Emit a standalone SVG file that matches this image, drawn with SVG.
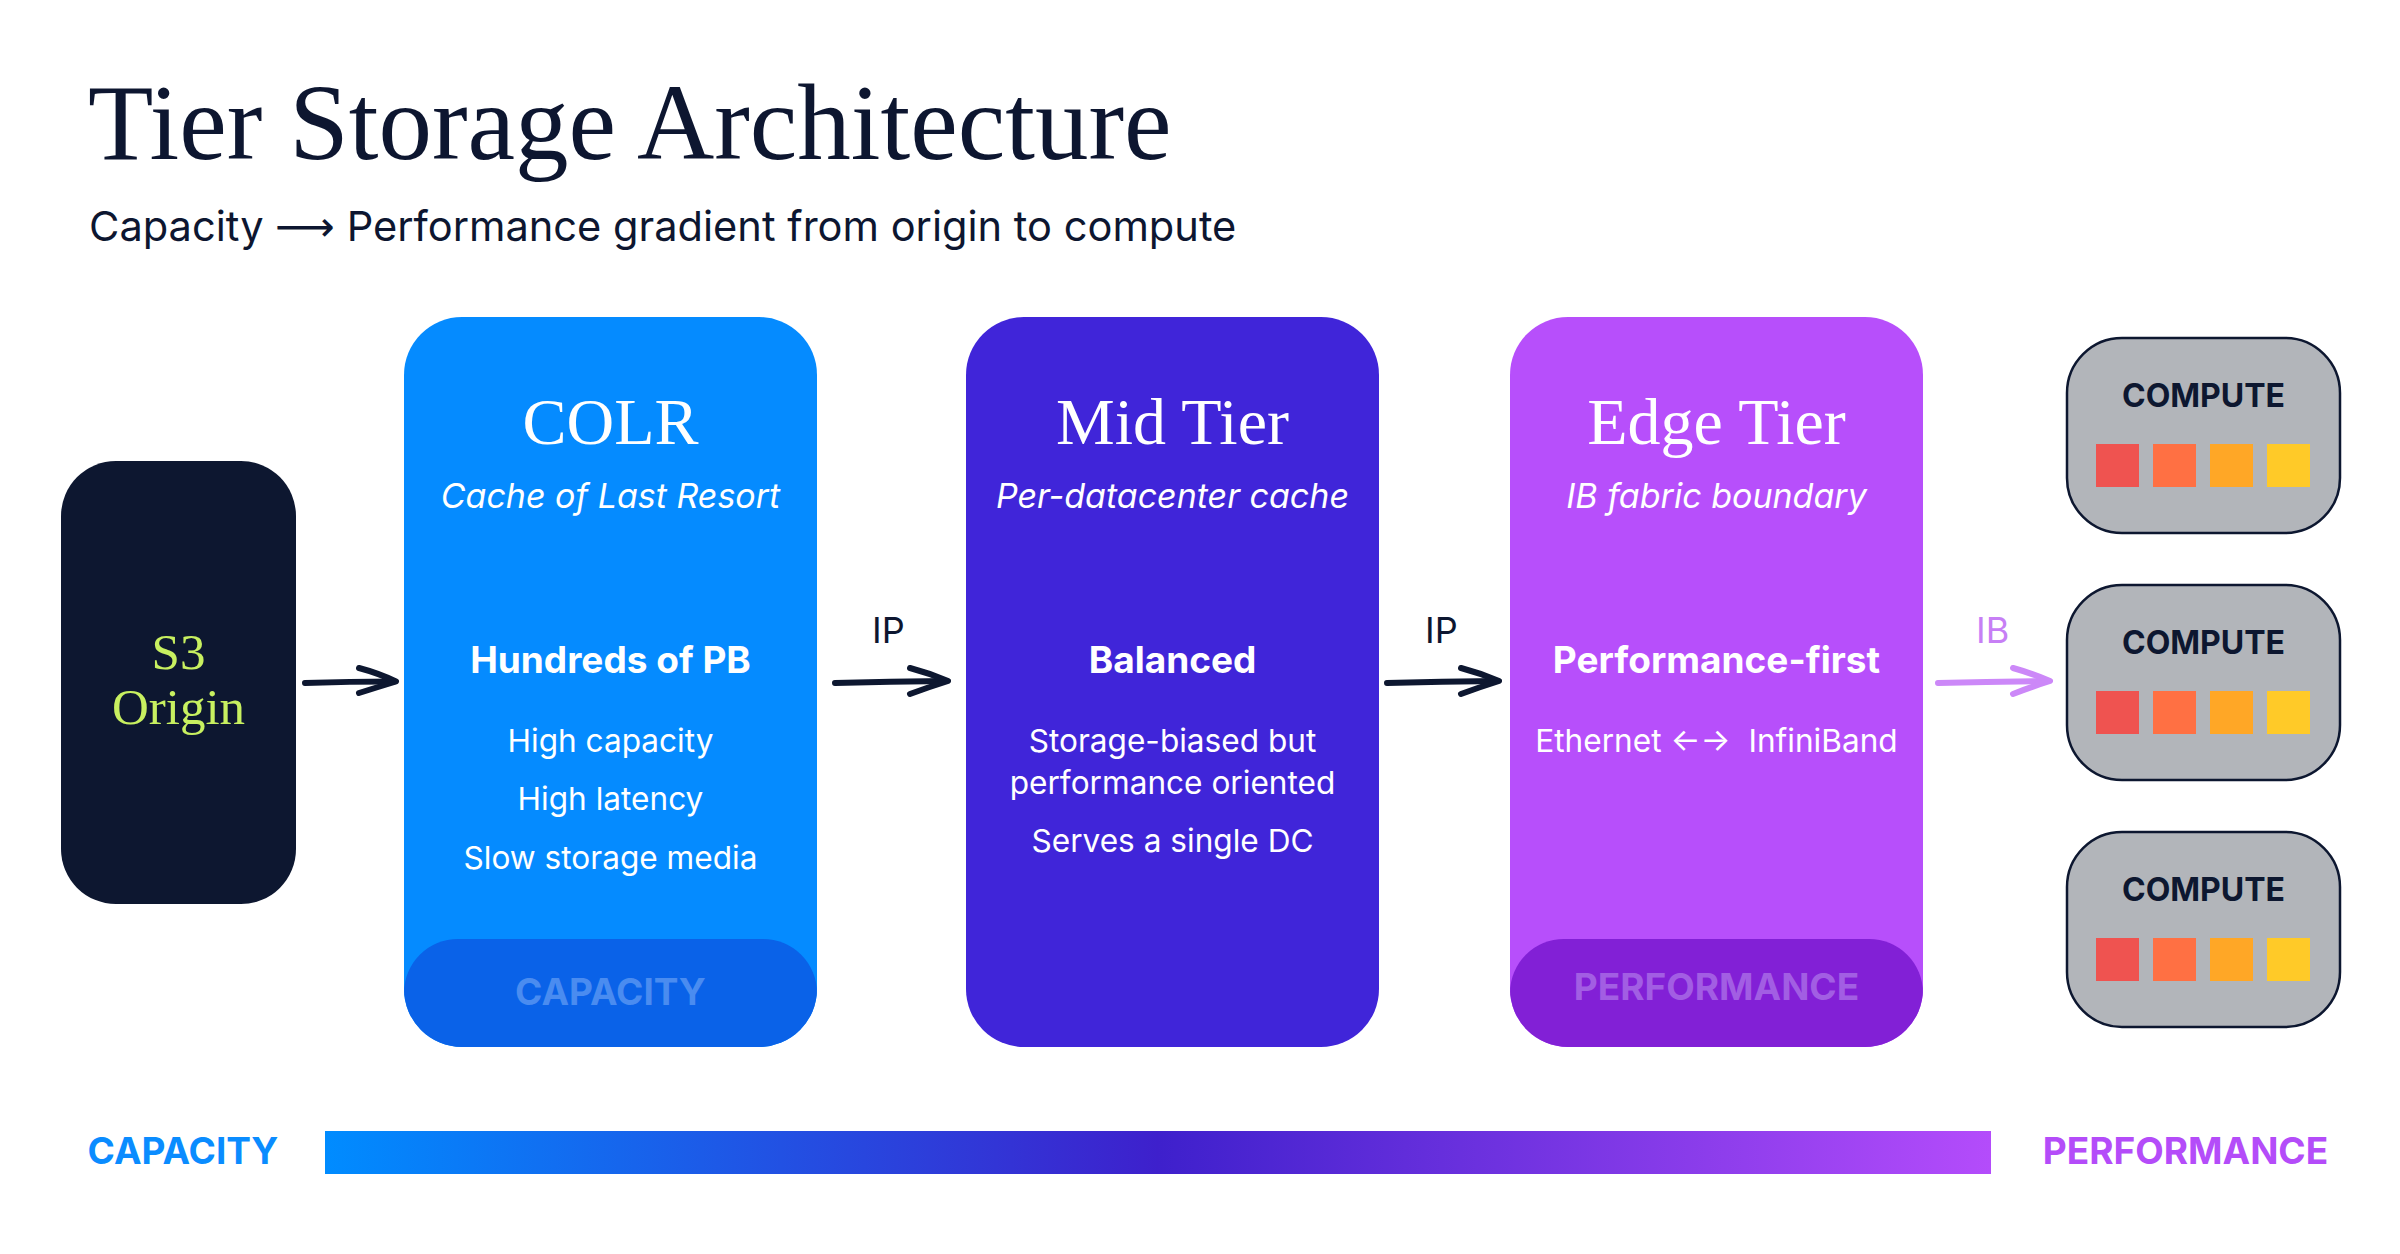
<svg xmlns="http://www.w3.org/2000/svg" width="2400" height="1254" viewBox="0 0 2400 1254">
<defs>
<style>
.serif{font-family:"Liberation Serif","Times New Roman",serif;}
.sans{font-family:Inter,"Liberation Sans",Arial,sans-serif;}
.title{font-size:107px;fill:#0d1630;}
.sub{font-size:41.6px;fill:#0d1630;}
.tierTitle{font-size:66px;fill:#ffffff;text-anchor:middle;}
.tierSub{font-size:34px;fill:#ffffff;font-style:italic;text-anchor:middle;}
.tierHead{font-size:37px;fill:#ffffff;font-weight:700;text-anchor:middle;}
.tierBody{font-size:31.6px;fill:#ffffff;text-anchor:middle;}
.band{font-size:37px;font-weight:700;text-anchor:middle;}
.lbl{font-size:36px;}
.dark{fill:#0d1630;}
.ib{fill:#c77ff5;}
.compute{fill:#b2b5ba;stroke:#0d1730;stroke-width:2.5;}
.ctext{font-size:32px;font-weight:700;fill:#0d1730;text-anchor:middle;}
.conn{fill:none;stroke-linecap:round;stroke-linejoin:round;stroke-width:6;}
.connDark{stroke:#0d1730;}
.connIB{stroke:#cc88f8;}
</style>
<linearGradient id="grad" x1="0" y1="0" x2="1" y2="0">
<stop offset="0" stop-color="#008cff"/>
<stop offset="0.5" stop-color="#3e20cc"/>
<stop offset="1" stop-color="#b44cfb"/>
</linearGradient>
<clipPath id="clipColr"><rect x="404" y="317" width="413" height="730" rx="58"/></clipPath>
<clipPath id="clipEdge"><rect x="1510" y="317" width="413" height="730" rx="58"/></clipPath>
<g id="chips">
<rect x="0" y="0" width="43" height="43" fill="#ef5350"/>
<rect x="57" y="0" width="43" height="43" fill="#ff7043"/>
<rect x="114" y="0" width="43" height="43" fill="#ffa726"/>
<rect x="171" y="0" width="43" height="43" fill="#ffca28"/>
</g>
</defs>
<rect width="2400" height="1254" fill="#ffffff"/>

<text class="serif title" x="88" y="159">Tier Storage Architecture</text>
<text class="sans sub" x="89" y="241">Capacity <tspan font-family="'DejaVu Sans',sans-serif">⟶</tspan> Performance gradient from origin to compute</text>

<g id="s3">
<rect x="61" y="461" width="235" height="443" rx="55" fill="#0d1730"/>
<text class="serif" x="178.5" y="669" font-size="51" fill="#c8f060" text-anchor="middle">S3</text>
<text class="serif" x="178.5" y="724" font-size="51" fill="#c8f060" text-anchor="middle">Origin</text>
</g>

<g id="colr">
<rect x="404" y="317" width="413" height="730" rx="58" fill="#058bff"/>
<rect x="404" y="939" width="413" height="140" rx="54" fill="#0a62e8" clip-path="url(#clipColr)"/>
<text class="serif tierTitle" x="610.5" y="444">COLR</text>
<text class="sans tierSub" x="610.5" y="508">Cache of Last Resort</text>
<text class="sans tierHead" x="610.5" y="673">Hundreds of PB</text>
<text class="sans tierBody" x="610.5" y="752">High capacity</text>
<text class="sans tierBody" x="610.5" y="810">High latency</text>
<text class="sans tierBody" x="610.5" y="869">Slow storage media</text>
<text class="sans band" x="610.5" y="1005" fill="#4a8cf0">CAPACITY</text>
</g>

<g id="mid">
<rect x="966" y="317" width="413" height="730" rx="58" fill="#4025d9"/>
<text class="serif tierTitle" x="1172.5" y="444">Mid Tier</text>
<text class="sans tierSub" x="1172.5" y="508">Per-datacenter cache</text>
<text class="sans tierHead" x="1172.5" y="673">Balanced</text>
<text class="sans tierBody" x="1172.5" y="752">Storage-biased but</text>
<text class="sans tierBody" x="1172.5" y="794">performance oriented</text>
<text class="sans tierBody" x="1172.5" y="852">Serves a single DC</text>
</g>

<g id="edge">
<rect x="1510" y="317" width="413" height="730" rx="58" fill="#b74ffb"/>
<rect x="1510" y="939" width="413" height="140" rx="54" fill="#8220d6" clip-path="url(#clipEdge)"/>
<text class="serif tierTitle" x="1716.5" y="444">Edge Tier</text>
<text class="sans tierSub" x="1716.5" y="508">IB fabric boundary</text>
<text class="sans tierHead" x="1716.5" y="673">Performance-first</text>
<text class="sans tierBody" x="1716.5" y="752" xml:space="preserve">Ethernet ←→  InfiniBand</text>
<text class="sans band" x="1716.5" y="1000" fill="#a25ee3">PERFORMANCE</text>
</g>

<g id="compute1">
<rect class="compute" x="2067" y="338" width="273" height="195" rx="55"/>
<text class="sans ctext" x="2203.5" y="407">COMPUTE</text>
<use href="#chips" x="2096" y="444"/>
</g>
<g id="compute2">
<rect class="compute" x="2067" y="585" width="273" height="195" rx="55"/>
<text class="sans ctext" x="2203.5" y="654">COMPUTE</text>
<use href="#chips" x="2096" y="691"/>
</g>
<g id="compute3">
<rect class="compute" x="2067" y="832" width="273" height="195" rx="55"/>
<text class="sans ctext" x="2203.5" y="901">COMPUTE</text>
<use href="#chips" x="2096" y="938"/>
</g>

<g id="connectors">
<path class="conn connDark" d="M305,683 Q350,681.5 394,681.5"/>
<path class="conn connDark" d="M359,668 Q378,673 396,681.5 Q378,687 359,693"/>
<text class="sans lbl dark" x="872" y="643">IP</text>
<path class="conn connDark" d="M835,683 Q890,681.5 946,681"/>
<path class="conn connDark" d="M910,668 Q929,673 948,681 Q929,687 910,694"/>
<text class="sans lbl dark" x="1425" y="643">IP</text>
<path class="conn connDark" d="M1387,683 Q1442,681.5 1497,681"/>
<path class="conn connDark" d="M1461,668 Q1480,673 1499,681 Q1480,687 1461,694"/>
<text class="sans lbl ib" x="1976" y="643">IB</text>
<path class="conn connIB" d="M1938,683 Q1993,681.5 2048,681"/>
<path class="conn connIB" d="M2013,668 Q2031,673 2050,681 Q2031,687 2013,694"/>
</g>

<g id="scale">
<rect x="325" y="1131" width="1666" height="43" fill="url(#grad)"/>
<text class="sans band" x="183" y="1164" fill="#0a8cff">CAPACITY</text>
<text class="sans band" x="2185.5" y="1164" fill="#b44cf9">PERFORMANCE</text>
</g>
</svg>
